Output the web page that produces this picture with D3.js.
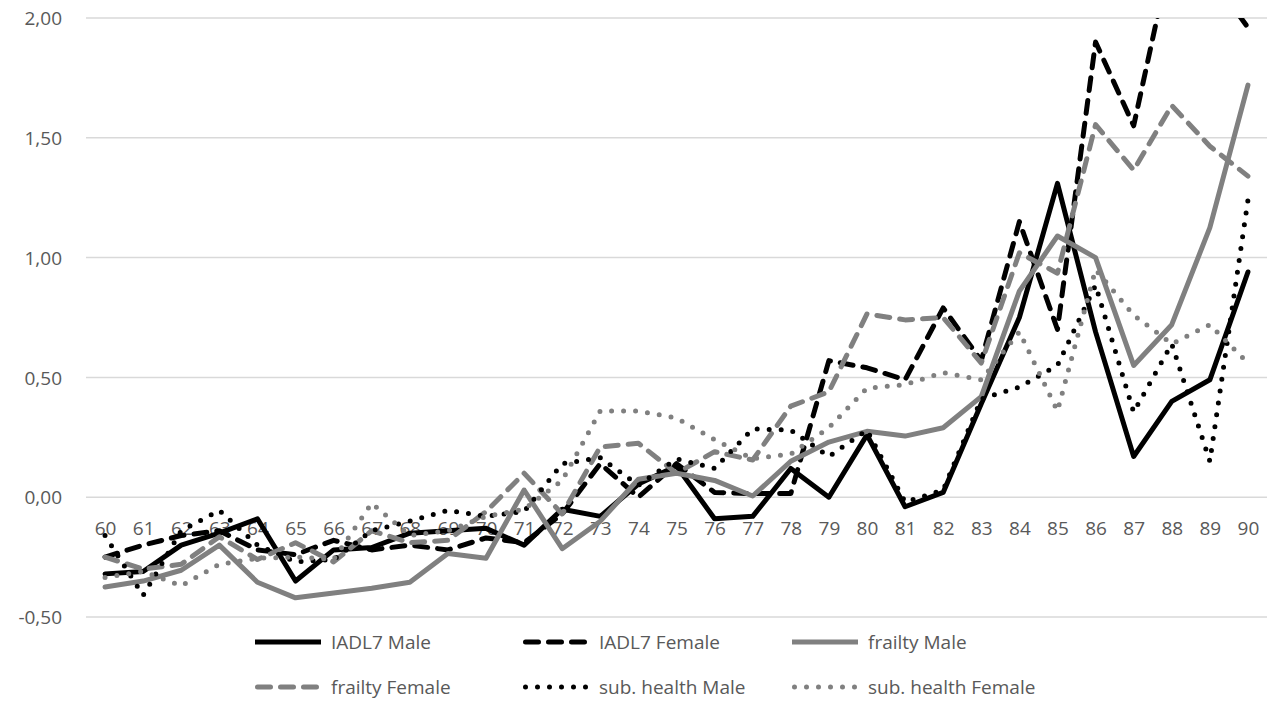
<!DOCTYPE html>
<html>
<head>
<meta charset="utf-8">
<script src="https://cdn.jsdelivr.net/npm/d3@7"></script>
<style>
  html, body { margin: 0; padding: 0; background: #fff; }
  svg { display: block; }
  text { font-family: "Open Sans", "Noto Sans", sans-serif; fill: #595959; }
</style>
</head>
<body>
<svg id="chart" width="1267" height="703"></svg>
<script>
// ---- data ----
const ages = d3.range(60, 91).map(String);
const yTicks = [-0.5, 0, 0.5, 1, 1.5, 2];

const iadlMale = [-0.32,-0.31,-0.20,-0.15,-0.09,-0.35,-0.22,-0.21,-0.15,-0.14,-0.13,-0.20,-0.05,-0.08,0.055,0.13,-0.09,-0.08,0.12,0.0,0.26,-0.04,0.02,0.39,0.75,1.31,0.69,0.17,0.40,0.49,0.94];
const iadlFemale = [-0.25,-0.20,-0.16,-0.14,-0.22,-0.24,-0.18,-0.22,-0.20,-0.22,-0.17,-0.19,-0.07,0.14,0.0,0.14,0.02,0.015,0.015,0.57,0.54,0.49,0.79,0.57,1.15,0.70,1.90,1.55,2.28,2.18,1.96];
const frailtyMale = [-0.375,-0.35,-0.305,-0.20,-0.355,-0.42,-0.40,-0.38,-0.355,-0.235,-0.255,0.03,-0.215,-0.10,0.075,0.10,0.07,0.005,0.15,0.23,0.275,0.255,0.29,0.42,0.86,1.09,1.00,0.55,0.72,1.125,1.72];
const frailtyFemale = [-0.25,-0.30,-0.28,-0.165,-0.26,-0.19,-0.27,-0.14,-0.19,-0.18,-0.06,0.10,-0.07,0.21,0.225,0.10,0.19,0.155,0.38,0.44,0.765,0.74,0.75,0.56,1.02,0.935,1.555,1.365,1.635,1.465,1.34];
const subHealthMale = [-0.16,-0.41,-0.14,-0.055,-0.20,-0.27,-0.26,-0.14,-0.10,-0.055,-0.08,-0.06,0.14,0.165,0.05,0.16,0.12,0.285,0.28,0.17,0.28,-0.02,0.03,0.41,0.46,0.55,0.885,0.355,0.64,0.15,1.24];
const subHealthFemale = [-0.335,-0.31,-0.37,-0.28,-0.255,-0.25,-0.26,-0.025,-0.16,-0.14,-0.08,-0.05,0.07,0.36,0.36,0.33,0.24,0.16,0.18,0.29,0.455,0.47,0.52,0.49,0.69,0.36,0.95,0.76,0.64,0.72,0.56];

const seriesNames = ["IADL7 Male","IADL7 Female","frailty Male","frailty Female","sub. health Male","sub. health Female"];
const seriesValues = [iadlMale, iadlFemale, frailtyMale, frailtyFemale, subHealthMale, subHealthFemale];

// ---- styles ----
const BLACK = "#000000", GRAY = "#808080";
const styles = [
  {color: BLACK, dash: null},
  {color: BLACK, dash: "13,10"},
  {color: GRAY,  dash: null},
  {color: GRAY,  dash: "13,10"},
  {color: BLACK, dash: "0,12"},
  {color: GRAY,  dash: "0,12"}
];
const LW = 5;

// ---- layout ----
const svg = d3.select("#chart");
const plot = {left: 86, right: 1267, top: 18, bottom: 617};

const x = d3.scalePoint().domain(ages).range([plot.left, plot.right]).padding(0.5);
const y = d3.scaleLinear().domain([-0.5, 2]).range([plot.bottom, plot.top]);

const locale = d3.formatLocale({decimal: ",", thousands: ".", grouping: [3], currency: ["", ""], minus: "-"});
const fmt = locale.format(".2f");

// gridlines
svg.append("g").selectAll("line").data(yTicks).join("line")
  .attr("x1", plot.left).attr("x2", plot.right)
  .attr("y1", d => y(d)).attr("y2", d => y(d))
  .attr("stroke", "#d9d9d9").attr("stroke-width", 1.5);

// y axis labels
const yAxis = d3.axisLeft(y).tickValues(yTicks).tickFormat(fmt).tickSize(0).tickPadding(0);
const gy = svg.append("g").attr("transform", "translate(62,0)").call(yAxis);
gy.select(".domain").remove();
gy.selectAll("text").style("font-family", '"Open Sans", sans-serif').style("font-size", "19px").attr("fill", "#595959").attr("dy", "0.35em");

// x axis labels (at y=0 crossing)
const xAxis = d3.axisBottom(x).tickSize(0).tickPadding(0);
const gx = svg.append("g").attr("transform", `translate(0,${y(0) + 31})`).call(xAxis);
gx.select(".domain").remove();
gx.selectAll("text").style("font-family", '"Open Sans", sans-serif').style("font-size", "19px").attr("fill", "#595959").attr("dy", "0.35em").attr("y", 0);

// clip
svg.append("clipPath").attr("id", "clip").append("rect")
  .attr("x", plot.left).attr("y", plot.top).attr("width", plot.right - plot.left).attr("height", plot.bottom - plot.top);

const line = d3.line().x((d, i) => x(ages[i])).y(d => y(d));

const gLines = svg.append("g").attr("clip-path", "url(#clip)");
seriesValues.forEach((vals, i) => {
  gLines.append("path")
    .attr("d", line(vals))
    .attr("fill", "none")
    .attr("stroke", styles[i].color)
    .attr("stroke-width", LW)
    .attr("stroke-linejoin", "round")
    .attr("stroke-linecap", "round")
    .attr("stroke-dasharray", styles[i].dash);
});

// legend
const legCols = [255, 523, 792];
const legRows = [642, 687];
const lg = svg.append("g");
seriesNames.forEach((name, i) => {
  const cx = legCols[i % 3], cy = legRows[Math.floor(i / 3)];
  const g = lg.append("g");
  g.append("line")
    .attr("x1", cx + (styles[i].dash ? 2.5 : 0)).attr("x2", cx + 66)
    .attr("y1", cy).attr("y2", cy)
    .attr("stroke", styles[i].color).attr("stroke-width", LW)
    .attr("stroke-linecap", styles[i].dash ? "round" : "butt")
    .attr("stroke-dasharray", styles[i].dash);
  g.append("text")
    .attr("x", cx + 76).attr("y", cy).attr("dy", "0.35em")
    .style("font-size", "19px")
    .text(name);
});
</script>
</body>
</html>
